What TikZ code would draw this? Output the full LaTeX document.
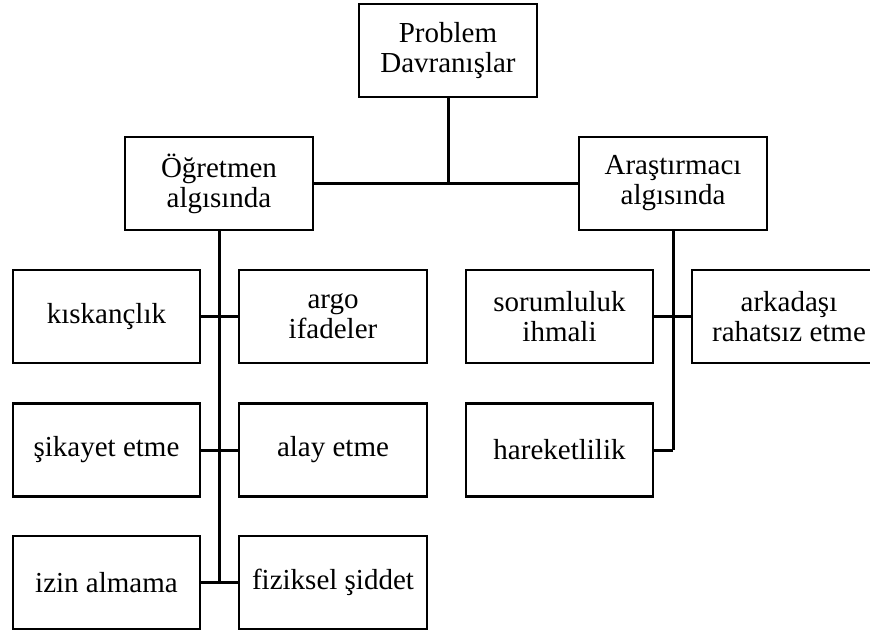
\documentclass[tikz,border=0pt]{standalone}
\usepackage{fontspec}
\setmainfont{Liberation Serif}
\usepackage{tikz}
\usetikzlibrary{arrows}

\begin{document}
\begin{tikzpicture}[x=1pt, y=-1pt]
			\tikzstyle{kutu} = [draw, line width=2.6pt, minimum width=188pt, minimum height=93pt, inner sep=0pt, align=center, font=\fontsize{29}{30}\selectfont]
			\tikzstyle{hat} = [line width=3pt]
			\useasboundingbox (0,0) rectangle (870,635);
			\begin{scope}
			\path
			node[kutu, minimum width=178pt] (pd) at (448,50.5) {Problem\\Davranışlar}
			node[kutu] (ogr) at (219,183.5) {Öğretmen\\algısında}
			node[kutu] (ars) at (673,183.5) {Araştırmacı\\algısında}
			node[kutu, minimum width=187pt] (kis) at (106.5,316.5) {kıskançlık}
			node[kutu] (argo) at (333,316.5) {argo\\ifadeler}
			node[kutu, minimum width=187pt] (sik) at (106.5,450) {şikayet etme}
			node[kutu] (alay) at (333,450) {alay etme}
			node[kutu, minimum width=187pt] (izin) at (106.5,582.5) {izin almama}
			node[kutu] (fiz) at (333,582.5) {fiziksel şiddet}
			node[kutu, minimum width=187pt] (sor) at (559.5,316.5) {sorumluluk\\ihmali}
			node[kutu, minimum width=194pt] (ark) at (789,316.5) {arkadaşı\\rahatsız etme}
			node[kutu, minimum width=187pt] (hare) at (559.5,450) {hareketlilik};
			\path[hat]
			(pd) edge (pd |- ogr)
			(ogr) edge (ars)
			(ogr) edge (ogr |- izin)
			(kis) edge (argo)
			(sik) edge (alay)
			(izin) edge (fiz)
			(ars) edge (ars |- hare)
			(hare) edge (ars |- hare)
			(sor) edge (ark)
			;
			\end{scope}
\end{tikzpicture}
\end{document}
